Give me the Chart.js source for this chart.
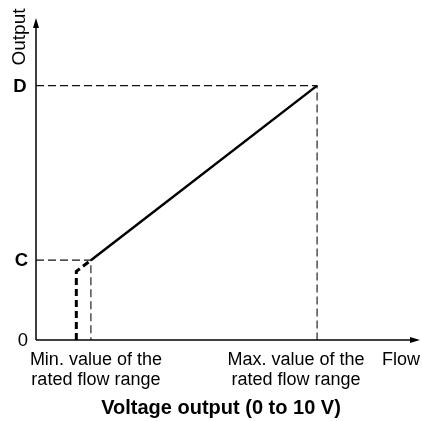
<!DOCTYPE html>
<html>
<head>
<meta charset="utf-8">
<script src="https://cdn.jsdelivr.net/npm/chart.js@4.4.1/dist/chart.umd.min.js"></script>
<style>
  html, body { margin: 0; padding: 0; background: #fff; }
  #wrap { width: 422px; height: 421px; }
</style>
</head>
<body>
<div id="wrap"><canvas id="outputChart" width="422" height="421"></canvas></div>
<script>
// flow positions on a 0..100 axis, output levels on a 0..100 axis
const flowCutoff = 10.5;   // output drops to 0 below this flow
const flowMin = 14.3;      // min. value of the rated flow range
const flowMax = 73.2;      // max. value of the rated flow range
const outputKink = 21.3;   // output just above the cutoff
const outputC = 24.8;
const outputD = 79.0;

const levelLabels = ['0', 'C', 'D'];
const levelValues = [0, outputC, outputD];
const minLabel = ['Min. value of the', 'rated flow range'];
const maxLabel = ['Max. value of the', 'rated flow range'];
const xAxisName = 'Flow';
const yAxisName = 'Output';
const title = 'Voltage output (0 to 10 V)';

const FONT = '"Liberation Sans", Arial, Helvetica, sans-serif';

const guide = (pts) => ({
  data: pts,
  borderColor: '#111',
  borderWidth: 1.1,
  borderDash: [8, 4],
  pointRadius: 0,
  fill: false,
  clip: false
});

// axes, arrows and all the text
const axesPlugin = {
  id: 'axesPlugin',
  afterDatasetsDraw(chart) {
    const { ctx, chartArea, scales } = chart;
    const x0 = scales.x.getPixelForValue(0);
    const y0 = scales.y.getPixelForValue(0);
    ctx.save();
    ctx.strokeStyle = '#000';
    ctx.fillStyle = '#000';
    ctx.lineWidth = 1.5;

    // y axis + arrow
    ctx.beginPath();
    ctx.moveTo(x0, y0);
    ctx.lineTo(x0, chartArea.top + 6);
    ctx.stroke();
    ctx.beginPath();
    ctx.moveTo(x0, chartArea.top);
    ctx.lineTo(x0 - 3, chartArea.top + 10);
    ctx.lineTo(x0 + 3, chartArea.top + 10);
    ctx.closePath();
    ctx.fill();

    // x axis + arrow
    ctx.beginPath();
    ctx.moveTo(x0, y0);
    ctx.lineTo(chartArea.right - 6, y0);
    ctx.stroke();
    ctx.beginPath();
    ctx.moveTo(chartArea.right, y0);
    ctx.lineTo(chartArea.right - 10, y0 - 3);
    ctx.lineTo(chartArea.right - 10, y0 + 3);
    ctx.closePath();
    ctx.fill();

    // level labels on the y axis
    ctx.textBaseline = 'middle';
    ctx.textAlign = 'center';
    const offsets = [13, 14.5, 16];
    levelLabels.forEach((lbl, i) => {
      ctx.font = (i === 0 ? '' : 'bold ') + '18.5px ' + FONT;
      ctx.fillText(lbl, x0 - offsets[i], scales.y.getPixelForValue(levelValues[i]) + 1);
    });

    // axis names
    ctx.font = '19px ' + FONT;
    ctx.save();
    ctx.translate(x0 - 16, chartArea.top + 19);
    ctx.rotate(-Math.PI / 2);
    ctx.textAlign = 'center';
    ctx.fillText(yAxisName, 0, 0);
    ctx.restore();

    ctx.font = '18px ' + FONT;
    ctx.textBaseline = 'alphabetic';
    ctx.textAlign = 'left';
    ctx.fillText(xAxisName, chartArea.right - 38, y0 + 25);

    // range labels under the x axis
    ctx.textAlign = 'center';
    const xMin = scales.x.getPixelForValue(flowMin);
    const xMax = scales.x.getPixelForValue(flowMax);
    minLabel.forEach((t, i) => ctx.fillText(t, xMin + 5, y0 + 25 + i * 20));
    maxLabel.forEach((t, i) => ctx.fillText(t, xMax - 21, y0 + 25 + i * 20));

    ctx.font = 'bold 20px ' + FONT;
    ctx.fillText(title, 221, y0 + 74);
    ctx.restore();
  }
};

new Chart(document.getElementById('outputChart'), {
  type: 'line',
  data: {
    datasets: [
      // dashed guides to C and D
      guide([{ x: 0, y: outputD }, { x: flowMax, y: outputD }, { x: flowMax, y: 0 }]),
      guide([{ x: 0, y: outputC }, { x: flowMin, y: outputC }, { x: flowMin, y: 0 }]),
      // output below the rated range
      {
        data: [{ x: flowCutoff, y: 0 }, { x: flowCutoff, y: outputKink }, { x: flowMin, y: outputC }],
        borderColor: '#000',
        borderWidth: 3,
        borderDash: [7, 4],
        pointRadius: 0,
        fill: false,
        clip: false
      },
      // output within the rated range
      {
        data: [{ x: flowMin, y: outputC }, { x: flowMax, y: outputD }],
        borderColor: '#000',
        borderWidth: 2.5,
        pointRadius: 0,
        fill: false,
        clip: false
      }
    ]
  },
  options: {
    responsive: false,
    animation: false,
    layout: { padding: { left: 36, right: 2, top: 18, bottom: 81 } },
    plugins: { legend: { display: false }, tooltip: { enabled: false } },
    scales: {
      x: { type: 'linear', min: 0, max: 100, display: false },
      y: { type: 'linear', min: 0, max: 100, display: false }
    }
  },
  plugins: [axesPlugin]
});
</script>
</body>
</html>
